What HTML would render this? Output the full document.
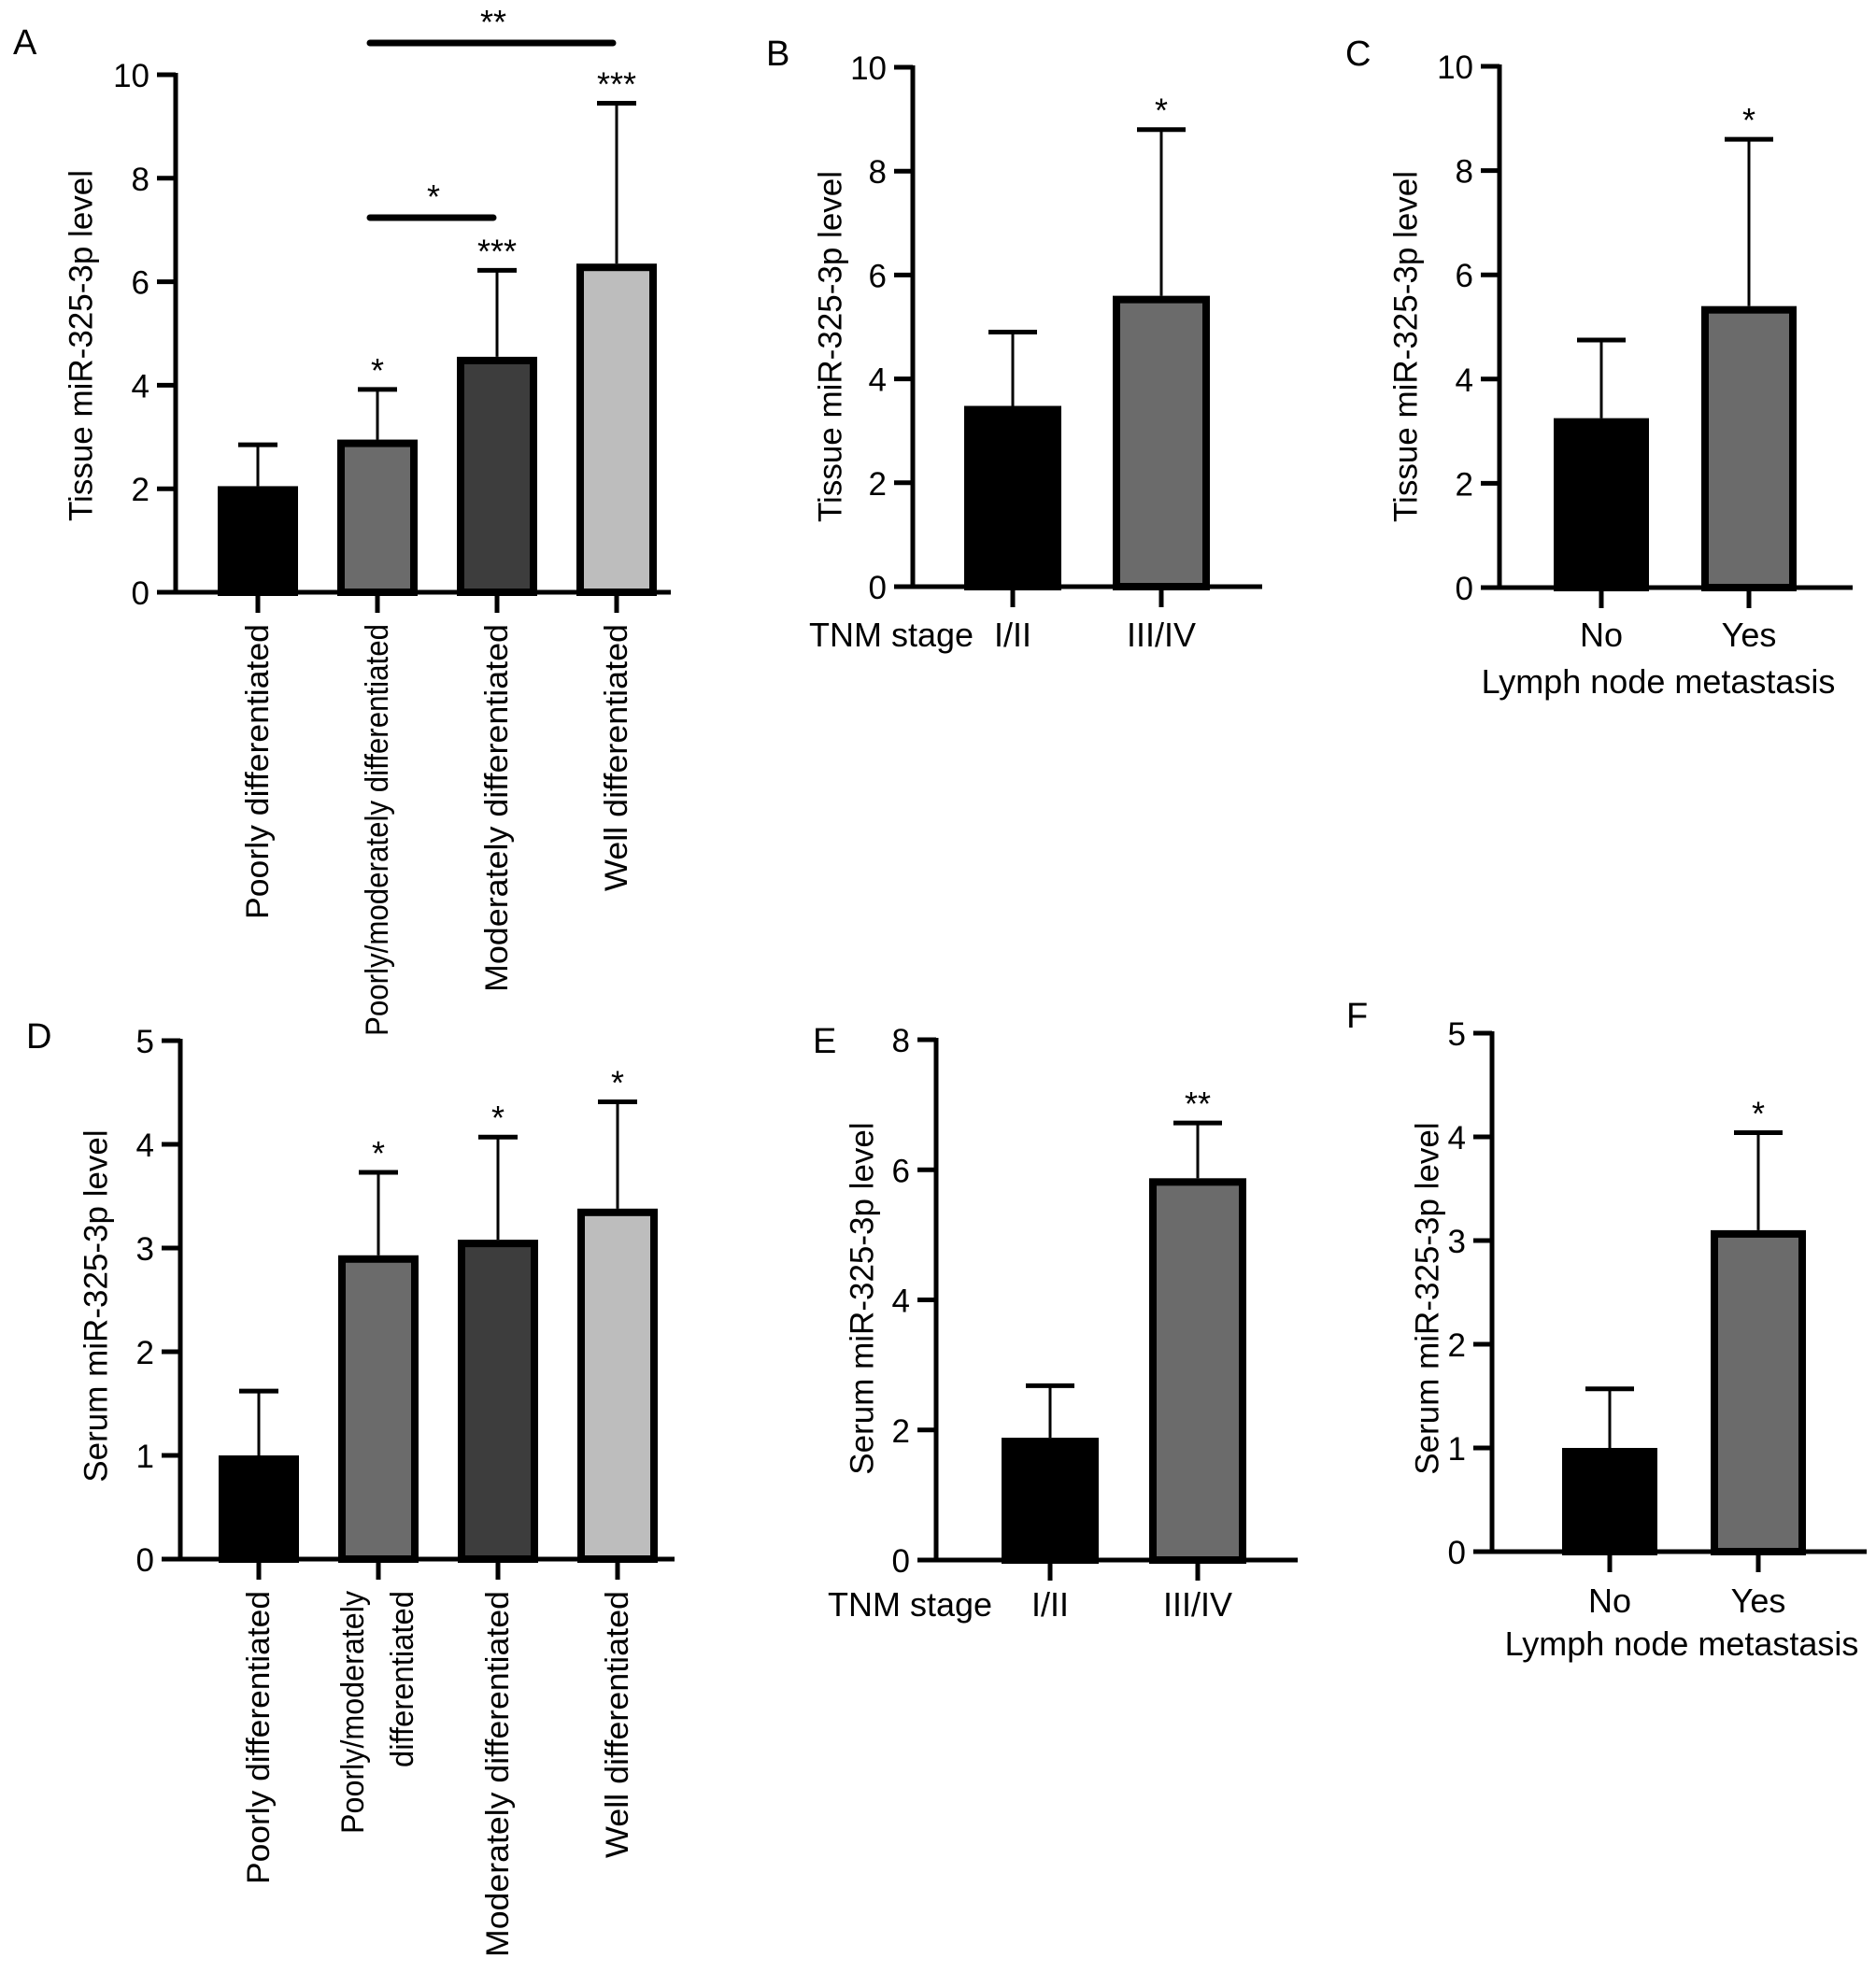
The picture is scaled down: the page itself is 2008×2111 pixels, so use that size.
<!DOCTYPE html>
<html><head><meta charset="utf-8"><style>
html,body{margin:0;padding:0;background:#fff}
svg{display:block}
text{font-family:"Liberation Sans",Arial,sans-serif;fill:#000}
</style></head><body>
<svg id="fig" width="2008" height="2111" viewBox="0 0 2008 2111" xmlns="http://www.w3.org/2000/svg"></svg>
<script>
// ---- data ----
const catsA=["Poorly differentiated","Poorly/moderately differentiated","Moderately differentiated","Well differentiated"];
const valsA=[2.05,2.95,4.55,6.35];
const errsA=[0.8,0.97,1.67,3.1];
const sigA=["","*","***","***"];
const catsB=["I/II","III/IV"];
const valsB=[3.48,5.6];
const errsB=[1.42,3.2];
const sigB=["","*"];
const catsC=["No","Yes"];
const valsC=[3.25,5.4];
const errsC=[1.5,3.2];
const sigC=["","*"];
const catsD=["Poorly differentiated","Poorly/moderately differentiated","Moderately differentiated","Well differentiated"];
const valsD=[1.0,2.93,3.08,3.38];
const errsD=[0.62,0.8,0.99,1.03];
const sigD=["","*","*","*"];
const catsE=["I/II","III/IV"];
const valsE=[1.88,5.87];
const errsE=[0.8,0.85];
const sigE=["","**"];
const catsF=["No","Yes"];
const valsF=[1.0,3.1];
const errsF=[0.57,0.94];
const sigF=["","*"];
const ticksA=[0,2,4,6,8,10], ticksD=[0,1,2,3,4,5], ticksE=[0,2,4,6,8];

const NS="http://www.w3.org/2000/svg";
const svg=document.getElementById('fig');
function mk(tag,attrs,parent,txt){const e=document.createElementNS(NS,tag);for(const k in attrs)e.setAttribute(k,attrs[k]);if(txt!==undefined)e.textContent=txt;(parent||svg).appendChild(e);return e;}

function panel(p){
  const g=mk('g',{});
  
  
  const ys=v=>p.y0-(v/p.ymax)*(p.y0-p.ytop);
  const xs=i=>p.c0+i*p.step;
  const L=mk('text',{x:p.lx,y:p.ly,'font-size':38},g,p.letter);
  
  
  p.vals.forEach((v,i)=>{
    const cx=xs(i), top=ys(v), hw=p.bw/2;
    const r=mk('rect',{x:cx-hw+4,y:top+4,width:p.bw-8,height:Math.max(0,p.y0-top-4),fill:p.fills[i],stroke:'#000','stroke-width':8},g);
    
    
    const et=ys(v+p.errs[i]);
    const el=mk('line',{x1:cx,x2:cx,y1:top,y2:et,stroke:'#000','stroke-width':3},g);
    
    
    mk('line',{x1:cx-p.cap,x2:cx+p.cap,y1:et,y2:et,stroke:'#000','stroke-width':5},g);
    if(p.sig[i]){
      const s=mk('text',{x:cx,y:et-8,'font-size':36,'text-anchor':'middle'},g,p.sig[i]);
      
      
    }
    mk('line',{x1:cx,x2:cx,y1:p.y0,y2:p.y0+22,stroke:'#000','stroke-width':5},g);
  });
  const ya=mk('line',{x1:p.ax,x2:p.ax,y1:p.ytop-2,y2:p.y0+2,stroke:'#000','stroke-width':5},g);
  
  
  const xa=mk('line',{x1:p.ax-20,x2:p.xend,y1:p.y0,y2:p.y0,stroke:'#000','stroke-width':5},g);
  
  
  p.ticks.forEach(t=>{
    const y=ys(t);
    mk('line',{x1:p.ax-20,x2:p.ax,y1:y,y2:y,stroke:'#000','stroke-width':5},g);
    const tl=mk('text',{x:p.ax-28,y:y+13,'font-size':35,'text-anchor':'end'},g,String(t));
    
    
  });
  const yt=mk('text',{x:0,y:0,'font-size':35,'text-anchor':'middle',transform:`translate(${p.tx},${p.ty}) rotate(-90)`,'dominant-baseline':'central'},g,p.ytitle);
  
  
  return {g,xs,ys};
}

function rotLabels(p,r,top,lens){
  p.cats.forEach((c,i)=>{
    const t=mk('text',{x:0,y:0,'font-size':34,'text-anchor':'end','dominant-baseline':'central',textLength:lens[i],lengthAdjust:'spacingAndGlyphs',transform:`translate(${r.xs(i)},${top}) rotate(-90)`},r.g,c);
    
    
  });
}
function flatLabels(p,r,base){
  p.cats.forEach((c,i)=>{
    const t=mk('text',{x:r.xs(i),y:base,'font-size':36,'text-anchor':'middle'},r.g,c);
    
    
  });
}
const fills4=['#000','#6b6b6b','#3d3d3d','#bdbdbd'], fills2=['#000','#6b6b6b'];

const pA={id:'a',letter:'A',lx:14,ly:58,ax:188,y0:634,ytop:80,ymax:10,xend:718,c0:276,step:128,bw:86,cap:21,
 vals:valsA,errs:errsA,sig:sigA,cats:catsA,fills:fills4,ticks:ticksA,ytitle:'Tissue miR-325-3p level',tx:87,ty:370};
const rA=panel(pA);
rotLabels(pA,rA,668,[316,441,394,286]);
[[1,3,46,'**'],[1,2,233,'*']].forEach(([a,b,y,s])=>{
  const l=mk('line',{x1:rA.xs(a)-8,x2:rA.xs(b)-4,y1:y,y2:y,stroke:'#000','stroke-width':7,'stroke-linecap':'round'},rA.g);
  
  
  mk('text',{x:(rA.xs(a)+rA.xs(b))/2-4,y:y-10,'font-size':36,'text-anchor':'middle'},rA.g,s);
});

const pB={id:'b',letter:'B',lx:820,ly:70,ax:977,y0:628,ytop:72,ymax:10,xend:1351,c0:1084,step:159,bw:104,cap:26,
 vals:valsB,errs:errsB,sig:sigB,cats:catsB,fills:fills2,ticks:ticksA,ytitle:'Tissue miR-325-3p level',tx:889,ty:371};
const rB=panel(pB); flatLabels(pB,rB,692);
mk('text',{x:866,y:692,'font-size':36},rB.g,'TNM stage');

const pC={id:'c',letter:'C',lx:1440,ly:70,ax:1605,y0:629,ytop:71,ymax:10,xend:1983,c0:1714,step:158,bw:102,cap:26,
 vals:valsC,errs:errsC,sig:sigC,cats:catsC,fills:fills2,ticks:ticksA,ytitle:'Tissue miR-325-3p level',tx:1505,ty:371};
const rC=panel(pC); flatLabels(pC,rC,692);
mk('text',{x:1775,y:742,'font-size':36,'text-anchor':'middle'},rC.g,'Lymph node metastasis');

const pD={id:'d',letter:'D',lx:28,ly:1122,ax:193,y0:1669,ytop:1114,ymax:5,xend:722,c0:277,step:128,bw:86,cap:21,
 vals:valsD,errs:errsD,sig:sigD,cats:catsD,fills:fills4,ticks:ticksD,ytitle:'Serum miR-325-3p level',tx:103,ty:1398};
const rD=panel(pD);
[[0,'Poorly differentiated',0,314],[2,'Moderately differentiated',0,392],[3,'Well differentiated',0,286]].forEach(([i,c,dx,len])=>{
  const t=mk('text',{x:0,y:0,'font-size':34,'text-anchor':'end','dominant-baseline':'central',textLength:len,lengthAdjust:'spacingAndGlyphs',transform:`translate(${rD.xs(i)+dx},1703) rotate(-90)`},rD.g,c);
  
  
});
[['Poorly/moderately',-27,260],['differentiated',26,189]].forEach(([c,dx,len])=>{
  const t=mk('text',{x:0,y:0,'font-size':34,'text-anchor':'end','dominant-baseline':'central',textLength:len,lengthAdjust:'spacingAndGlyphs',transform:`translate(${rD.xs(1)+dx},1703) rotate(-90)`},rD.g,c);
  
  
});

const pE={id:'e',letter:'E',lx:870,ly:1127,ax:1002,y0:1670,ytop:1113,ymax:8,xend:1389,c0:1124,step:158,bw:104,cap:26,
 vals:valsE,errs:errsE,sig:sigE,cats:catsE,fills:fills2,ticks:ticksE,ytitle:'Serum miR-325-3p level',tx:923,ty:1390};
const rE=panel(pE); flatLabels(pE,rE,1730);
mk('text',{x:886,y:1730,'font-size':36},rE.g,'TNM stage');

const pF={id:'f',letter:'F',lx:1441,ly:1100,ax:1597,y0:1661,ytop:1106,ymax:5,xend:1998,c0:1723,step:159,bw:102,cap:26,
 vals:valsF,errs:errsF,sig:sigF,cats:catsF,fills:fills2,ticks:ticksD,ytitle:'Serum miR-325-3p level',tx:1528,ty:1390};
const rF=panel(pF); flatLabels(pF,rF,1726);
mk('text',{x:1800,y:1772,'font-size':36,'text-anchor':'middle'},rF.g,'Lymph node metastasis');
</script>
</body></html>
